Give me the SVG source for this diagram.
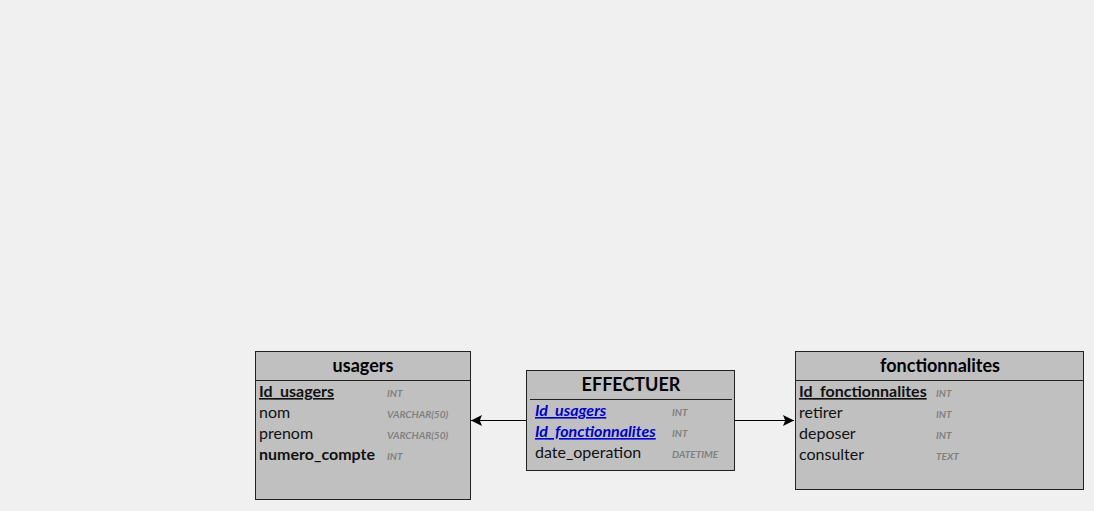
<svg xmlns="http://www.w3.org/2000/svg" width="1094" height="511" viewBox="0 0 1094 511">
<defs>
<style>
.box{fill:#c0c0c0;stroke:#222;stroke-width:1}
.sep{stroke:#222;stroke-width:1}
.title{font-family:Lato,"Liberation Sans",sans-serif;font-weight:bold;font-size:18px;fill:#000;text-anchor:middle}
.f{font-family:Lato,"Liberation Sans",sans-serif;font-size:16px;fill:#111}
.pk{font-weight:bold;text-decoration:underline}
.b{font-weight:bold}
.fk{font-weight:bold;font-style:italic;text-decoration:underline;fill:#0000cc}
.t{font-family:Lato,"Liberation Sans",sans-serif;font-size:10px;font-style:italic;font-weight:bold;fill:#808080}
.conn{stroke:#000;stroke-width:1;fill:none}
</style>
<marker id="arr" viewBox="0 0 10 10" refX="10" refY="5" markerWidth="15" markerHeight="11" markerUnits="userSpaceOnUse" orient="auto">
<path d="M0,0 L10,5 L0,10 L2,5 Z" fill="#000"/>
</marker>
</defs>
<rect width="1094" height="511" fill="#f0f0f0"/>
<g id="connectors">
<line class="conn" x1="526" y1="420.5" x2="471" y2="420.5" marker-end="url(#arr)"/>
<line class="conn" x1="735" y1="420.5" x2="794" y2="420.5" marker-end="url(#arr)"/>
</g>
<g id="usagers">
<rect class="box" x="255.5" y="351.5" width="215" height="148"/>
<line class="sep" x1="255.5" y1="380.5" x2="470.5" y2="380.5"/>
<text class="title" x="363" y="372">usagers</text>
<text class="f pk" x="259" y="397">Id_usagers</text>
<text class="t" x="387" y="397">INT</text>
<text class="f" x="259" y="418">nom</text>
<text class="t" x="387" y="418">VARCHAR(50)</text>
<text class="f" x="259" y="439">prenom</text>
<text class="t" x="387" y="439">VARCHAR(50)</text>
<text class="f b" x="259" y="460">numero_compte</text>
<text class="t" x="387" y="460">INT</text>
</g>
<g id="effectuer">
<rect class="box" x="526.5" y="370.5" width="208" height="100"/>
<line class="sep" x1="530" y1="399.5" x2="732" y2="399.5"/>
<text class="title" x="631" y="391">EFFECTUER</text>
<text class="f fk" x="535" y="416">Id_usagers</text>
<text class="t" x="672" y="416">INT</text>
<text class="f fk" x="535" y="437">Id_fonctionnalites</text>
<text class="t" x="672" y="437">INT</text>
<text class="f" x="535" y="458">date_operation</text>
<text class="t" x="672" y="458">DATETIME</text>
</g>
<g id="fonctionnalites">
<rect class="box" x="795.5" y="351.5" width="288" height="138"/>
<line class="sep" x1="795.5" y1="380.5" x2="1083.5" y2="380.5"/>
<text class="title" x="940" y="372">fonctionnalites</text>
<text class="f pk" x="799" y="397">Id_fonctionnalites</text>
<text class="t" x="936" y="397">INT</text>
<text class="f" x="799" y="418">retirer</text>
<text class="t" x="936" y="418">INT</text>
<text class="f" x="799" y="439">deposer</text>
<text class="t" x="936" y="439">INT</text>
<text class="f" x="799" y="460">consulter</text>
<text class="t" x="936" y="460">TEXT</text>
</g>
</svg>
